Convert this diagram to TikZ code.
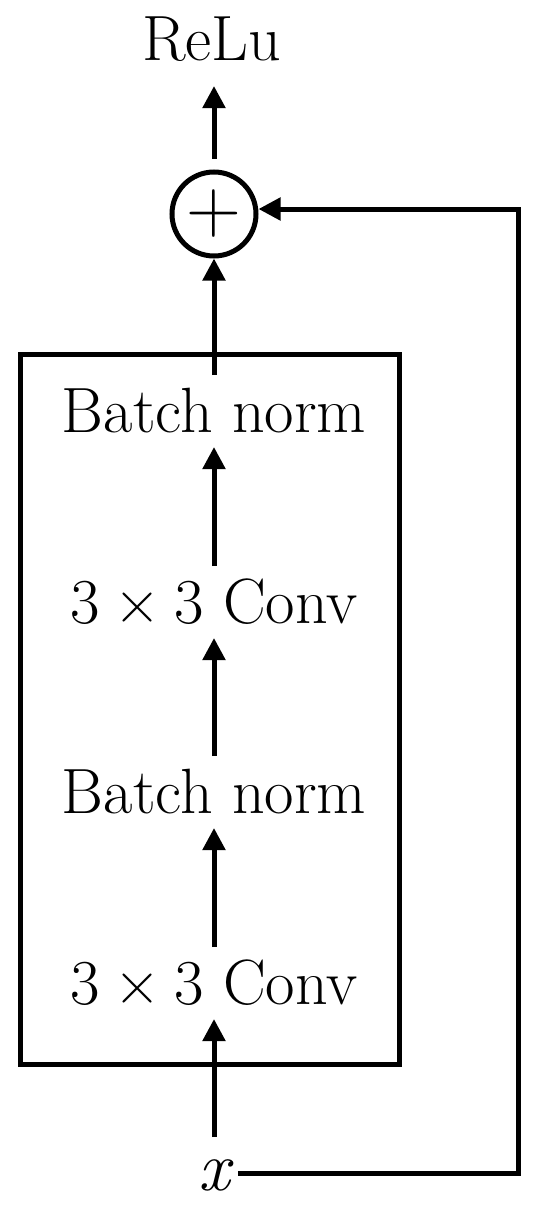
\documentclass[tikz,border=0pt]{standalone}
\usepackage{fontspec}
\setmainfont{Latin Modern Roman}
\usetikzlibrary{arrows.meta}
\newcommand{\cnv}{3\hspace{0.222em}×\hspace{0.222em}3 Conv}
\begin{document}
\begin{tikzpicture}[x=1pt,y=-1pt,line width=5pt,
  lbl/.style={font=\fontsize{64}{66}\selectfont, anchor=base, inner xsep=0pt,
    inner ysep=15pt, outer sep=0pt, text height=42pt, text depth=0pt},
  arr/.style={-{Triangle[length=22pt,width=22pt]}},
  blockbox/.style={draw, minimum width=379pt, minimum height=710pt, inner sep=0pt, outer sep=0pt}]
\useasboundingbox (0,0) rectangle (550,1207);
\node[blockbox] (box) at (209.5,709) {};
\node[lbl, inner ysep=26pt] (relu) at (212,60) {ReLu};
\node[draw, circle, minimum size=84pt, inner sep=0pt] (plus) at (214,214) {};
\node[font=\fontsize{76}{78}\selectfont, inner sep=0pt] (plussign) at (plus.center) {+};
\node[lbl] (bn1) at (214,432) {Batch norm};
\node[lbl] (conv1) at (214,623) {\cnv};
\node[lbl] (bn2) at (214,813) {Batch norm};
\node[lbl] (conv2) at (214,1004) {\cnv};
\node[lbl, font=\fontsize{70}{72}\selectfont, inner ysep=11pt, inner xsep=8pt] (x) at (214,1190) {\itshape x};
\coordinate (c1) at (518,1173);
\coordinate (c2) at (518,209);
\draw[arr] (x.north) -- (conv2.south);
\draw[arr] (conv2.north) -- (bn2.south);
\draw[arr] (bn2.north) -- (conv1.south);
\draw[arr] (conv1.north) -- (bn1.south);
\draw[arr] (bn1.north) -- (plus.south);
\draw[arr, shorten <=11pt] (plus.north) -- (plus.north |- relu.south);
\draw[arr] (x.east |- c1) -- (c1) -- (c2) -- (plus.east |- c2);
\end{tikzpicture}
\end{document}
